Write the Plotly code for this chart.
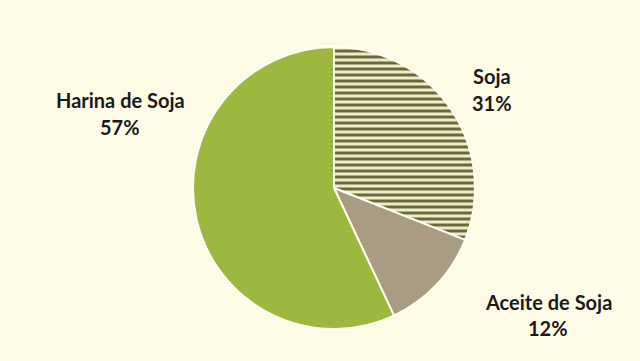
import plotly.graph_objects as go

labels = ["Soja", "Aceite de Soja", "Harina de Soja"]
values = [31, 12, 57]
pct_text = ["31%", "12%", "57%"]

bg = "#FDFBE6"
fig = go.Figure(go.Pie(
    labels=labels, values=values, sort=False, direction="clockwise", rotation=0,
    textinfo="none", hoverinfo="label+percent",
    marker=dict(
        colors=["#EFECCC", "#A89C82", "#9DB83F"],
        line=dict(color="#FFFFF4", width=2),
        pattern=dict(shape=["-", "", ""], fgcolor="#6A6939", fgopacity=1,
                     size=6, solidity=0.5, fillmode="overlay"),
    ),
    domain=dict(x=[(334-141)/640, (334+141)/640], y=[32/361, 314/361]),
    showlegend=False,
))

font = dict(family="Lato", size=20, color="#1A1A1A")
ann = [
    ("<b>Harina de Soja</b>", 120, 100),
    ("<b>" + pct_text[2] + "</b>", 120, 127),
    ("<b>" + labels[0] + "</b>", 492, 76),
    ("<b>" + pct_text[0] + "</b>", 492, 103),
    ("<b>" + labels[1] + "</b>", 548, 302),
    ("<b>" + pct_text[1] + "</b>", 548, 328),
]
annotations = [dict(text=t, x=x/640, y=1-y/361, xref="paper", yref="paper",
                    showarrow=False, font=font, xanchor="center", yanchor="middle")
               for t, x, y in ann]

fig.update_layout(width=640, height=361, margin=dict(l=0, r=0, t=0, b=0),
                  paper_bgcolor=bg, plot_bgcolor=bg, annotations=annotations)
fig.write_html("out.html")
